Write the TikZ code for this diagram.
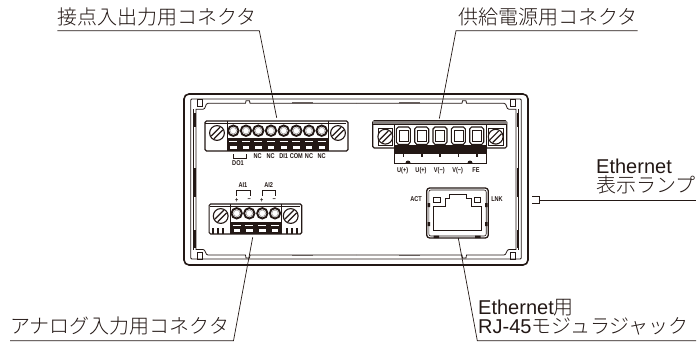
\documentclass[tikz,border=0pt]{standalone}
\usepackage{fontspec}
\setmainfont{Liberation Sans}
\newfontfamily\cjk{Noto Sans CJK JP Light}
\newfontfamily\narrowfont[FakeStretch=0.8]{Liberation Sans}
\usetikzlibrary{calc}
\definecolor{ink}{HTML}{231815}
\tikzset{
  leader/.style={draw=ink,line width=0.7pt,line join=miter},
  labeltext/.style={inner sep=0pt,anchor=south west,text=ink,font=\fontsize{20}{20}\selectfont,text height=14pt,text depth=6.3pt},
  lowlabel/.style={labeltext,text depth=7.3pt},
  wordtext/.style={inner sep=0pt,anchor=base west,text=ink,font=\fontsize{20}{20}\selectfont},
  tinylabel/.style={inner sep=0pt,text=ink,font=\narrowfont\bfseries\fontsize{7}{7}\selectfont},
  conbody/.style={draw=ink,line width=1.1pt,inner sep=0pt,rounded corners=1.5pt,fill=white},
  casing/.style={draw=ink,line width=0.8pt},
  screw/.pic={
    \draw[ink,line width=1.1pt,fill=white] (0,0) circle[radius=7.4pt];
    \draw[ink,line width=1.2pt] (-5.8,3) -- (3,-5.8) (-3,5.8) -- (5.8,-3);
  },
  hole/.pic={
    \draw[ink,line width=1.9pt,fill=white] (0,0) circle[radius=5.2pt];
    \draw[ink!45,line width=0.5pt] (0,0) circle[radius=3.2pt];
  }
}
\begin{document}
\begin{tikzpicture}[x=1pt,y=-1pt]
\useasboundingbox (0,0) rectangle (700,342);

\draw[ink,line width=1.6pt,rounded corners=5pt] (184,94) rectangle (528,265);
\draw[casing,rounded corners=1pt] (190.7,99) rectangle (521.3,259);
\foreach \ox/\sx in {0/1,712/-1} {
  \begin{scope}[shift={(\ox,0)},xscale=\sx]
    \draw[casing] (356,103.3) -- (250,103.3) -- (249.5,100.8) -- (246,100.8) -- (245.5,103.3)
      -- (208,103.3) to[out=180,in=0] (203,109.3) -- (196,109.3) -- (196,249.5) -- (203,249.5)
      to[out=0,in=180] (208,255) -- (245.5,255) -- (246,258) -- (249.5,258) -- (250,255) -- (356,255);
    \draw[casing,line width=0.6pt] (197,99) rectangle (202,106);
    \draw[casing,line width=0.6pt] (197,252) rectangle (202,259);
    \draw[casing,line width=0.6pt] (193.3,109.3) -- (193.3,249.5);
    \draw[ink,line width=1.8pt] (194.6,113) -- (194.6,127) (194.6,168) -- (194.6,197) (194.6,230) -- (194.6,248);
    \draw[ink!70,line width=1.8pt] (292,103.3) -- (313,103.3) (292,255.5) -- (313,255.5);
  \end{scope}
}

\node[conbody,minimum width=143pt,minimum height=30pt] (ioBody) at (276.5,136) {};
\draw[ink,line width=0.7pt] (ioBody.north west) ++(1,2.6) -- ++(141,0);
\fill[ink] (227,138) rectangle (328,151);
\draw[ink,line width=0.7pt] (227,121) -- (227,151) (328,121) -- (328,151);
\pic at (217,133) {screw};
\pic at (338,133) {screw};
\foreach \tx in {233.3,246,258.3,271,283.7,296.3,309,321.7} {
  \pic at (\tx,130.7) {hole};
  \fill[white] (\tx-3.2,146) rectangle (\tx+3.2,149.2);
  \draw[white,line width=0.3pt] (\tx-4,141.5) -- (\tx+4,141.5);
}
\draw[ink,line width=0.8pt] (233.3,154) -- (233.3,158) -- (246,158) -- (246,154);
\foreach \tx/\tag in {257.7/NC,270.7/NC,283.7/DI1,296.3/COM,309/NC,321.7/NC} {
  \node[tinylabel] (io\tag\tx) at (\tx,156) {\tag};
}
\node[tinylabel] (doTag) at (238,163.5) {DO1};

\node[tinylabel] (aiOne) at (243,185) {AI1};
\node[tinylabel] (aiTwo) at (268.7,185) {AI2};
\draw[ink,line width=0.8pt] (236.7,196) -- (236.7,190.5) -- (250,190.5) -- (250,196);
\draw[ink,line width=0.8pt] (262,196) -- (262,190.5) -- (275.3,190.5) -- (275.3,196);
\foreach \tx/\tag/\tn in {236.7/+/a,249.3/−/b,261.7/+/c,274.3/−/d} {
  \node[tinylabel] (ai\tn) at (\tx,200) {\tag};
}
\node[conbody,minimum width=92.7pt,minimum height=30pt] (anaBody) at (255.4,219) {};
\draw[ink,line width=0.7pt] (anaBody.north west) ++(1,2.6) -- ++(90.7,0);
\fill[ink] (230,221.7) rectangle (281,234);
\draw[ink,line width=0.7pt] (230,204) -- (230,234) (281,204) -- (281,234);
\pic at (220.7,216) {screw};
\pic at (290.7,216) {screw};
\foreach \tx in {236.7,249.3,262.3,275} {
  \pic at (\tx,213.3) {hole};
  \fill[white] (\tx-3.2,228.6) rectangle (\tx+3.2,232);
  \draw[white,line width=0.3pt] (\tx-4,225) -- (\tx+4,225);
}
\foreach \tx in {213,218,223,287,292,297} {
  \draw[ink,line width=1.2pt] (\tx,228) -- (\tx,233.5);
}

\node[conbody,minimum width=134pt,minimum height=27.3pt] (powerBody) at (439.7,134.3) {};
\draw[ink,line width=1pt,fill=white] (394.3,121) rectangle (486.7,163);
\fill[ink!55] (373,121) rectangle (506.5,124.5);
\draw[ink,line width=0.7pt] (373,124.5) -- (506.5,124.5);
\fill[ink] (394.3,145) rectangle (486.7,154);
\fill[ink] (405.5,163) arc[start angle=180,end angle=0,radius=2.5pt] -- cycle;
\fill[ink] (467.5,163) arc[start angle=180,end angle=0,radius=2.5pt] -- cycle;
\draw[ink,line width=0.8pt] (378,128) rectangle (392.7,145);
\draw[ink,line width=0.8pt] (488.3,128) rectangle (503,145);
\pic at (385.3,136.7) {screw};
\pic at (495.7,136.7) {screw};
\foreach \tx in {403.3,421.7,440,458.3,476.7} {
  \draw[ink,line width=1.1pt,fill=white] (\tx-5,127) -- (\tx+5,127) -- (\tx+7,129) -- (\tx+7,142) -- (\tx+5,144.5) -- (\tx-5,144.5) -- (\tx-7,142) -- (\tx-7,129) -- cycle;
  \draw[ink,line width=0.6pt] (\tx-4.5,130) rectangle (\tx+4.5,141.5);
  \draw[ink,line width=1.6pt] (\tx,154) -- (\tx,156.5);
}
\foreach \tx/\tag/\tn in {402.7/U(+)/a,421/U(+)/b,439.3/V(−)/c,457.7/V(−)/d,476/FE/e} {
  \node[tinylabel] (pw\tn) at (\tx,170.5) {\tag};
}

\node[conbody,line width=1.3pt,rounded corners=3pt,minimum width=61.6pt,minimum height=50pt] (rjBody) at (457.5,213) {};
\draw[ink,line width=0.6pt,rounded corners=2pt] (428.8,190) rectangle (486.2,236);
\draw[ink,line width=1pt] (433,230.7) -- (433,206) -- (445,206) -- (445,198.3) -- (449,198.3) -- (449,194) -- (466.7,194) -- (466.7,198.3) -- (471.7,198.3) -- (471.7,206) -- (481.7,206) -- (481.7,230.7) -- cycle;
\draw[ink,line width=1pt] (433.5,197.3) rectangle (440.5,202.7);
\draw[ink,line width=1pt] (474,197.3) rectangle (480.7,202.7);
\fill[ink] (427.5,203) rectangle (430,207) (427.5,222) rectangle (430,226);
\fill[ink] (485,203) rectangle (487.5,207) (485,222) rectangle (487.5,226);
\fill[ink] (433.5,235.5) rectangle (439,238) (475,235.5) rectangle (480.7,238);
\node[tinylabel] (actTag) at (416,199.3) {ACT};
\node[tinylabel] (lnkTag) at (497,199.3) {LNK};

\draw[ink,line width=0.7pt] (532.3,196.7) -- (539.5,196.7) -- (539.5,203.3) -- (532.3,203.3);

\node[labeltext] (ioLabel) at (57.3,30.7) {\cjk 接点入出力用コネクタ};
\node[labeltext] (powerLabel) at (458,30.7) {\cjk 供給電源用コネクタ};
\node[lowlabel] (anaLabel) at (10,340.7) {\cjk アナログ入力用コネクタ};
\node[wordtext] (lampWord) at (596,173.3) {Ethernet};
\node[labeltext,text depth=7.3pt] (lampLabel) at (596,200) {\cjk 表示ランプ};
\node[wordtext] (rjWord) at (478,314.3) {Ethernet{\cjk 用}};
\node[lowlabel] (rjLabel) at (478,340.7) {RJ-45{\cjk モジュラジャック}};

\coordinate (ioKnee) at (259.3,30.7);
\coordinate (powerKnee) at (456,30.7);
\coordinate (powerEnd) at (696,30.7);
\coordinate (anaKnee) at (233.5,340.7);
\coordinate (rjKnee) at (477.3,340.7);
\coordinate (rjEnd) at (696,340.7);
\coordinate (lampTag) at (539.5,200);

\draw[leader] (ioLabel.south west) -- (ioKnee) -- ([shift={(0.2,-2.7)}]ioBody.north);
\draw[leader] (powerLabel.south east) -- (powerKnee) -- ([shift={(-0.4,-1.5)}]powerBody.north);
\draw[leader] (anaLabel.south west) -- (anaKnee) -- ([shift={(-2.7,2.7)}]anaBody.south);
\draw[leader] (rjEnd) -- (rjKnee) -- ([shift={(0.8,-0.7)}]rjBody.south);
\draw[leader] (lampLabel.south east) -- (lampTag);
\end{tikzpicture}
\end{document}
